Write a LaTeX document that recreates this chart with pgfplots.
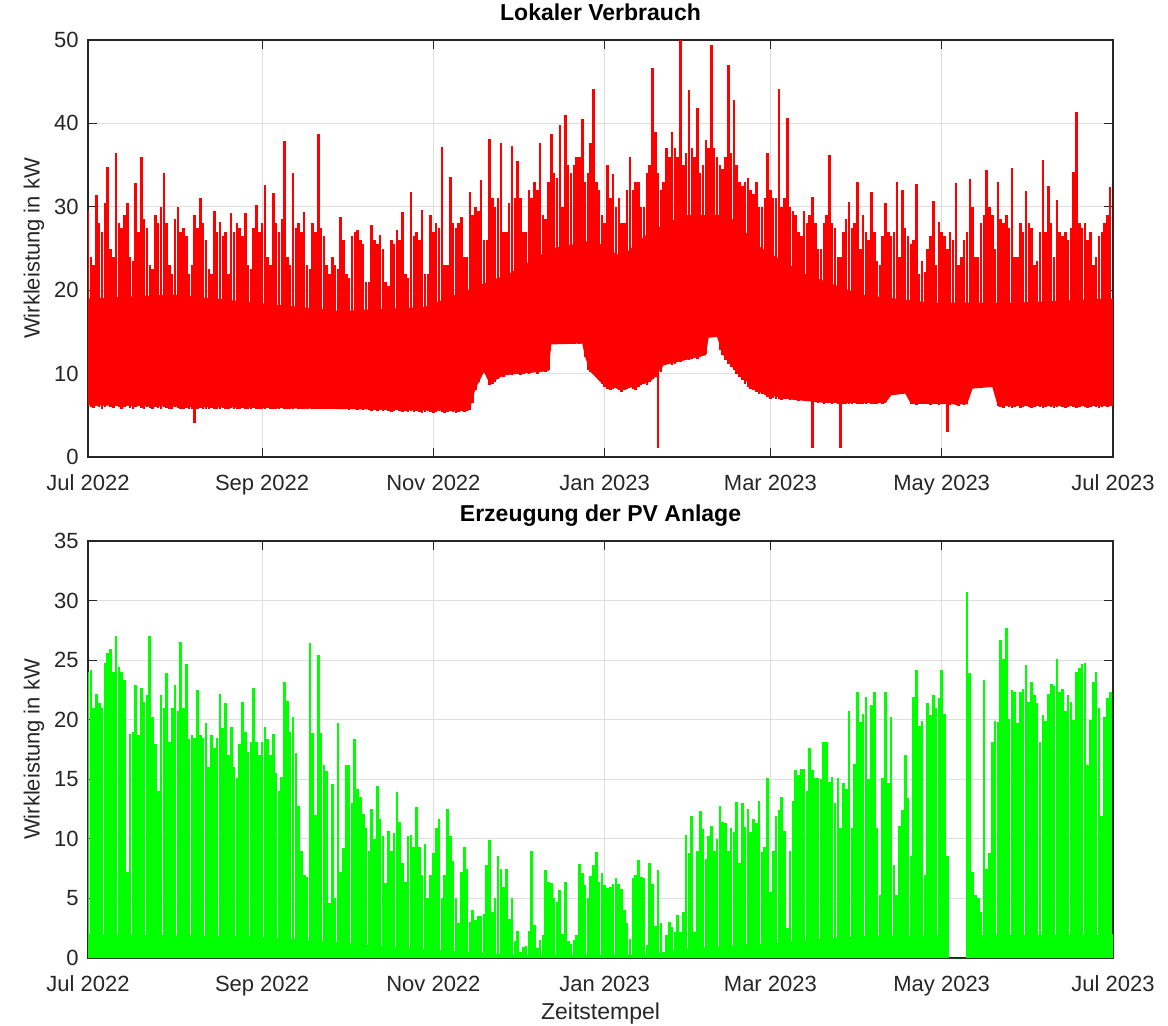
\documentclass[border=0pt]{standalone}
\usepackage{pgfplots}
\pgfplotsset{compat=1.18}
\usepackage{pgfplotstable}
\usepackage{fontspec}
\setmainfont{Liberation Sans}
\definecolor{axgray}{RGB}{38,38,38}
\definecolor{gridgray}{RGB}{222,222,222}
\definecolor{lvred}{RGB}{255,0,0}
\definecolor{pvgreen}{RGB}{0,255,0}

% daily minimum and maximum of the local consumption (kW)
\pgfplotstableread{
d lo hi
0 6.2 29.5
1 6.0 24.0
2 5.9 23.0
3 6.1 31.4
4 6.0 28.0
5 5.8 27.0
6 6.0 30.5
7 6.2 34.8
8 6.0 25.0
9 5.9 24.0
10 6.1 36.4
11 6.0 28.0
12 5.8 27.5
13 6.0 29.0
14 6.1 30.5
15 5.9 24.0
16 5.8 23.5
17 6.0 32.8
18 6.1 27.0
19 5.9 36.0
20 5.8 28.5
21 6.0 27.5
22 5.9 23.0
23 5.8 22.5
24 6.0 29.0
25 5.9 28.0
26 5.8 30.0
27 6.0 34.0
28 5.9 28.0
29 5.7 23.0
30 5.8 22.0
31 6.0 28.5
32 5.9 30.0
33 5.8 27.0
34 5.7 27.5
35 5.9 26.5
36 5.8 22.0
37 5.7 23.0
38 4.1 29.0
39 5.8 27.5
40 5.9 31.0
41 5.8 28.0
42 5.7 26.0
43 5.8 22.5
44 5.9 22.0
45 5.8 29.5
46 5.7 27.0
47 5.8 28.2
48 5.9 26.5
49 5.7 27.0
50 5.8 22.0
51 5.9 29.2
52 5.8 27.0
53 5.7 28.0
54 5.8 27.5
55 5.9 26.5
56 5.8 29.2
57 5.7 23.0
58 5.8 22.5
59 5.9 27.5
60 5.7 30.2
61 5.8 27.0
62 5.7 28.0
63 5.8 32.6
64 5.9 24.0
65 5.7 23.0
66 5.8 31.6
67 5.7 28.0
68 5.8 27.0
69 5.9 28.5
70 5.7 37.9
71 5.8 24.0
72 5.7 23.0
73 5.8 34.0
74 5.9 27.5
75 5.7 28.0
76 5.8 27.0
77 5.7 29.4
78 5.8 23.0
79 5.9 22.5
80 5.7 28.0
81 5.8 27.0
82 5.7 38.7
83 5.8 27.5
84 5.7 26.5
85 5.8 23.0
86 5.9 22.0
87 5.7 24.0
88 5.8 23.0
89 5.7 22.5
90 5.8 28.8
91 5.7 26.0
92 5.8 22.0
93 5.6 21.5
94 5.7 26.5
95 5.8 27.0
96 5.6 27.2
97 5.7 26.0
98 5.6 25.5
99 5.7 21.0
100 5.6 21.0
101 5.5 27.8
102 5.6 26.0
103 5.5 25.5
104 5.6 26.6
105 5.5 25.0
106 5.6 21.0
107 5.5 20.5
108 5.4 26.0
109 5.5 25.5
110 5.6 27.2
111 5.5 26.0
112 5.4 29.4
113 5.5 22.0
114 5.4 21.5
115 5.5 31.8
116 5.4 26.5
117 5.5 27.0
118 5.4 26.0
119 5.3 29.6
120 5.4 22.0
121 5.5 22.0
122 5.4 29.0
123 5.3 27.0
124 5.4 28.0
125 5.5 27.5
126 5.4 37.2
127 5.3 23.0
128 5.4 23.0
129 5.5 33.6
130 5.4 28.0
131 5.3 27.5
132 5.4 28.0
133 5.5 28.8
134 5.4 24.0
135 5.5 24.0
136 5.6 31.8
137 6.5 29.0
138 8.0 30.0
139 9.0 29.5
140 10.0 33.2
141 10.4 26.0
142 9.6 26.0
143 8.6 38.1
144 8.8 31.0
145 9.0 30.0
146 9.4 31.0
147 9.8 37.6
148 9.6 27.0
149 9.8 27.0
150 10.0 30.5
151 9.8 37.3
152 10.0 31.0
153 10.2 35.5
154 9.8 31.0
155 10.0 27.0
156 10.2 27.0
157 10.0 32.0
158 10.4 31.0
159 10.2 33.0
160 10.0 32.0
161 10.2 37.6
162 10.4 29.0
163 10.2 28.5
164 10.4 33.0
165 13.6 38.7
166 13.8 34.0
167 13.6 33.5
168 13.9 39.8
169 14.0 30.0
170 13.8 41.0
171 13.6 35.0
172 13.9 34.0
173 14.0 35.0
174 13.8 36.0
175 13.6 36.0
176 13.8 40.5
177 12.0 33.0
178 10.4 34.0
179 10.2 37.6
180 10.0 44.1
181 9.6 33.0
182 9.2 32.0
183 8.8 29.0
184 8.4 28.0
185 8.2 35.0
186 8.0 31.0
187 8.2 33.9
188 8.4 30.0
189 8.0 31.0
190 7.8 28.0
191 8.0 28.0
192 8.2 32.0
193 8.4 36.0
194 8.2 32.0
195 8.0 33.0
196 8.4 33.0
197 8.6 30.0
198 8.8 30.0
199 8.6 34.0
200 9.0 35.0
201 9.4 46.7
202 9.6 39.0
203 1.1 34.0
204 10.2 32.0
205 11.0 33.0
206 11.2 37.0
207 11.4 36.0
208 11.0 39.0
209 11.2 37.0
210 11.6 36.0
211 11.4 50.0
212 11.6 35.0
213 11.8 36.5
214 11.6 44.0
215 11.8 37.0
216 12.0 36.0
217 11.8 41.8
218 12.0 34.0
219 12.2 35.0
220 12.4 38.0
221 14.4 37.0
222 14.8 49.4
223 14.6 37.0
224 14.5 36.0
225 12.8 35.0
226 12.2 34.5
227 11.6 36.0
228 11.2 47.0
229 10.8 36.5
230 10.4 42.8
231 10.0 35.0
232 9.6 33.0
233 9.2 32.5
234 8.8 33.0
235 8.4 33.4
236 8.2 32.0
237 8.0 31.5
238 7.8 33.0
239 7.6 30.0
240 7.5 30.0
241 7.4 31.0
242 7.2 36.4
243 7.0 32.0
244 7.1 31.0
245 6.9 31.0
246 7.0 44.1
247 6.8 30.0
248 6.9 31.0
249 7.0 40.7
250 6.8 30.0
251 6.9 29.5
252 6.8 29.0
253 6.7 27.0
254 6.8 26.5
255 6.9 29.5
256 6.7 28.0
257 6.8 29.0
258 1.1 31.2
259 6.6 28.0
260 6.5 25.0
261 6.6 25.0
262 6.4 28.0
263 6.5 29.0
264 6.6 36.2
265 6.4 28.0
266 6.5 27.5
267 6.4 24.0
268 1.1 24.0
269 6.3 27.0
270 6.4 28.5
271 6.3 30.6
272 6.4 27.5
273 6.5 28.0
274 6.3 33.0
275 6.4 25.0
276 6.3 29.0
277 6.4 27.0
278 6.5 26.0
279 6.3 31.8
280 6.4 27.0
281 6.3 23.5
282 6.5 23.0
283 6.4 26.5
284 6.6 30.4
285 7.6 27.0
286 7.9 26.5
287 8.2 27.0
288 7.8 33.0
289 8.0 24.0
290 7.7 32.0
291 8.1 27.5
292 7.8 26.5
293 6.4 25.5
294 6.3 26.0
295 6.2 32.7
296 6.4 22.0
297 6.3 23.5
298 6.5 22.2
299 6.3 25.0
300 6.2 26.5
301 6.4 30.7
302 6.3 23.0
303 6.2 28.2
304 6.4 27.0
305 6.3 26.5
306 3.0 25.0
307 6.2 27.0
308 6.3 26.0
309 6.2 32.8
310 6.1 23.0
311 6.3 24.0
312 6.2 26.0
313 6.3 27.0
314 8.6 33.3
315 9.0 30.0
316 8.8 24.0
317 9.2 24.0
318 9.0 28.0
319 8.8 29.0
320 9.1 34.4
321 9.0 30.0
322 8.8 29.0
323 9.0 25.0
324 6.1 33.0
325 6.0 28.5
326 5.9 28.0
327 6.1 29.0
328 6.0 27.5
329 5.9 34.7
330 6.0 24.0
331 6.1 24.0
332 5.9 28.0
333 6.0 27.0
334 6.1 31.9
335 6.0 28.0
336 5.9 27.5
337 6.0 23.0
338 6.1 23.5
339 6.0 27.0
340 5.9 35.6
341 6.0 27.0
342 6.1 32.5
343 6.0 28.0
344 5.9 24.0
345 6.0 30.8
346 6.1 27.0
347 6.0 26.5
348 5.9 27.0
349 6.0 26.0
350 6.1 27.5
351 6.0 34.2
352 5.9 41.4
353 6.0 28.0
354 6.1 27.5
355 6.0 28.0
356 5.9 26.0
357 6.0 27.0
358 6.1 23.0
359 6.0 24.0
360 5.9 26.5
361 6.0 27.0
362 6.1 28.0
363 6.0 29.0
364 6.1 32.4
}\tabLV

% dense band of the consumption: lower edge forward, upper edge back
\pgfplotstableread{
d v
0 6.2
37 6.0
60 5.9
100 5.7
135 5.5
136 5.7
138 8.2
141 10.2
143 8.8
148 9.8
164 10.3
165 13.5
176 13.6
177 12.0
179 10.2
183 8.8
190 8.0
200 9.0
202 9.6
205 11.0
220 12.2
221 14.3
224 14.4
226 12.3
232 9.7
240 7.6
250 6.9
262 6.5
284 6.5
286 7.4
291 7.6
293 6.4
313 6.3
315 8.2
322 8.4
324 6.1
365 6.1
365 19
330 18.5
300 18.5
275 19.5
255 22
240 25
228 29
212 29
200 27
190 24
180 26
165 25
150 22
135 20
120 18
90 17.5
60 18.5
30 19.5
0 19
}\tabLVband

% daily maximum of the PV generation (kW)
\pgfplotstableread{
d pv
0 24.0
1 24.2
2 21.0
3 22.2
4 21.4
5 21.0
6 24.8
7 25.6
8 25.9
9 24.0
10 27.0
11 24.4
12 24.0
13 23.3
14 7.2
15 18.8
16 19.0
17 22.9
18 18.7
19 22.7
20 21.5
21 22.1
22 27.0
23 20.2
24 18.0
25 14.0
26 22.1
27 21.0
28 23.9
29 18.1
30 21.0
31 22.9
32 20.7
33 26.5
34 21.0
35 24.7
36 18.4
37 18.7
38 18.5
39 22.5
40 18.7
41 18.5
42 19.7
43 16.0
44 18.7
45 17.6
46 18.5
47 22.2
48 19.3
49 21.4
50 17.0
51 19.4
52 16.0
53 15.1
54 18.0
55 21.5
56 19.0
57 17.3
58 18.1
59 22.7
60 18.1
61 17.0
62 18.1
63 19.4
64 18.4
65 17.0
66 18.8
67 15.5
68 14.0
69 15.2
70 23.2
71 21.6
72 19.0
73 20.2
74 17.2
75 12.8
76 9.0
77 7.0
78 6.8
79 26.4
80 18.9
81 12.0
82 25.4
83 18.9
84 16.2
85 15.7
86 4.6
87 14.6
88 5.0
89 19.7
90 7.2
91 9.2
92 16.2
93 16.2
94 13.0
95 18.4
96 14.2
97 13.5
98 12.1
99 10.9
100 9.0
101 12.5
102 10.0
103 14.4
104 11.7
105 10.2
106 6.3
107 10.7
108 9.0
109 10.5
110 13.9
111 11.4
112 8.0
113 6.4
114 10.2
115 10.3
116 9.3
117 12.7
118 9.3
119 7.0
120 9.6
121 5.0
122 7.0
123 8.8
124 10.9
125 11.7
126 5.0
127 7.0
128 12.5
129 10.2
130 8.1
131 5.0
132 2.9
133 7.2
134 9.3
135 7.5
136 3.0
137 4.0
138 3.2
139 3.5
140 3.5
141 3.7
142 7.8
143 9.9
144 3.9
145 5.0
146 8.6
147 7.5
148 6.0
149 7.5
150 3.3
151 5.0
152 1.4
153 2.3
154 0.5
155 0.9
156 1.0
157 2.3
158 9.0
159 2.8
160 0.8
161 1.5
162 1.9
163 7.4
164 6.4
165 6.3
166 5.0
167 4.7
168 5.7
169 2.0
170 6.4
171 1.4
172 1.2
173 1.5
174 1.9
175 7.9
176 7.1
177 6.1
178 5.0
179 6.9
180 7.8
181 8.9
182 6.4
183 7.1
184 6.1
185 5.9
186 6.0
187 6.2
188 6.7
189 6.2
190 5.8
191 4.0
192 2.9
193 1.6
194 6.7
195 7.0
196 8.2
197 6.8
198 6.7
199 1.1
200 8.0
201 6.2
202 2.7
203 7.4
204 2.9
205 0.3
206 1.9
207 3.0
208 2.6
209 2.2
210 3.6
211 2.2
212 3.9
213 10.3
214 8.8
215 11.9
216 2.2
217 9.0
218 12.3
219 10.8
220 8.3
221 10.2
222 11.1
223 9.0
224 10.0
225 12.8
226 11.4
227 11.3
228 9.0
229 10.9
230 10.6
231 13.1
232 8.0
233 13.0
234 11.0
235 12.5
236 10.6
237 11.7
238 11.3
239 13.2
240 8.9
241 9.3
242 15.1
243 5.5
244 9.0
245 11.9
246 12.4
247 13.5
248 10.7
249 2.5
250 9.0
251 13.2
252 15.8
253 15.4
254 15.9
255 15.9
256 14.0
257 17.6
258 15.8
259 15.1
260 15.1
261 15.0
262 18.1
263 18.1
264 14.8
265 15.2
266 13.0
267 15.1
268 10.9
269 14.7
270 14.2
271 20.7
272 10.9
273 16.3
274 22.3
275 19.8
276 20.5
277 21.9
278 15.0
279 21.2
280 22.3
281 10.9
282 5.3
283 15.1
284 22.3
285 14.7
286 20.2
287 7.8
288 5.3
289 11.1
290 12.4
291 17.0
292 13.4
293 8.6
294 21.9
295 24.2
296 19.5
297 19.9
298 7.0
299 21.4
300 20.4
301 22.1
302 21.0
303 21.8
304 24.2
305 20.5
306 8.6
307 0
308 0
309 0
310 0
311 0
312 0
313 30.7
314 23.9
315 7.2
316 5.3
317 5.0
318 3.9
319 23.3
320 7.5
321 8.8
322 18.1
323 19.9
324 19.8
325 26.7
326 25.1
327 27.7
328 20.1
329 22.5
330 22.3
331 19.7
332 22.3
333 22.6
334 24.6
335 21.5
336 23.2
337 22.1
338 21.4
339 18.1
340 20.4
341 19.9
342 22.2
343 23.0
344 22.8
345 25.1
346 22.3
347 22.6
348 20.7
349 22.1
350 21.5
351 20.0
352 24.0
353 24.3
354 24.7
355 24.8
356 16.2
357 20.0
358 23.2
359 24.0
360 21.0
361 11.9
362 20.2
363 21.8
364 22.3
}\tabPV

% dense lower band of the PV generation
\pgfplotstableread{
d f
0 2.0
60 1.8
90 1.3
110 0.9
135 0.5
150 0.3
200 0.3
213 0.8
240 1.2
260 1.6
280 1.9
306 1.9
306.4 0
312.6 0
313 1.9
365 2.0
}\tabPVf

\pgfplotsset{
  mstyle/.style={
    scale only axis, width=512.5pt, height=208.5pt,
    xmin=0, xmax=365,
    xtick={0,62,123,184,243,304,365},
    xticklabels={Jul 2022,Sep 2022,Nov 2022,Jan 2023,Mar 2023,May 2023,Jul 2023},
    tick align=inside,
    xtick pos=both, ytick pos=both, ticklabel pos=left,
    major tick length=4.5pt,
    minor tick num=0,
    xmajorgrids, ymajorgrids,
    major grid style={draw=gridgray, line width=0.5pt},
    axis line style={draw=axgray, line width=0.7pt},
    every tick/.style={draw=axgray, line width=0.6pt},
    tick label style={font=\fontsize{11}{13}\selectfont, text=axgray},
    xticklabel style={anchor=base, yshift=-16.5pt},
    yticklabel style={anchor=east, xshift=-1.2pt},
    /pgf/number format/assume math mode=true,
    ylabel={Wirkleistung in kW},
    ylabel style={at={(axis description cs:-0.0527,0.5)}, anchor=center, font=\fontsize{11}{13}\selectfont, text=axgray},
    title style={at={(axis description cs:0.5,1.0175)}, anchor=base, font=\bfseries\fontsize{11.5}{14}\selectfont},
  }
}

\begin{document}
\begin{tikzpicture}
\path[use as bounding box] (0,0) rectangle (584pt,-513pt);

\begin{axis}[mstyle, at={(44pt,-228.5pt)}, anchor=south west,
  ymin=0, ymax=50, ytick={0,10,20,30,40,50},
  title={Lokaler Verbrauch}]
  \addplot[fill=lvred, draw=none] table[x=d, y=v] {\tabLVband};
  \addplot[lvred, line width=1.25pt, quiver={u=0, v=\thisrow{hi}-\thisrow{lo}}]
    table[x=d, y=lo] {\tabLV};
\end{axis}

\begin{axis}[mstyle, at={(44pt,-479pt)}, anchor=south west,
  ymin=0, ymax=35, ytick={0,5,10,15,20,25,30,35},
  title={Erzeugung der PV Anlage},
  xlabel={Zeitstempel},
  xlabel style={at={(axis description cs:0.5,-0.1463)}, anchor=base, font=\fontsize{11.5}{14}\selectfont, text=axgray}]
  \addplot[fill=pvgreen, draw=none] table[x=d, y=f] {\tabPVf} \closedcycle;
  \addplot[ycomb, pvgreen, line width=1.3pt] table[x=d, y=pv] {\tabPV};
  \addplot[pvgreen, line width=1pt] coordinates {(0,0.05) (306.4,0.05)};
  \addplot[pvgreen, line width=1pt] coordinates {(312.6,0.05) (365,0.05)};
\end{axis}
\end{tikzpicture}
\end{document}
